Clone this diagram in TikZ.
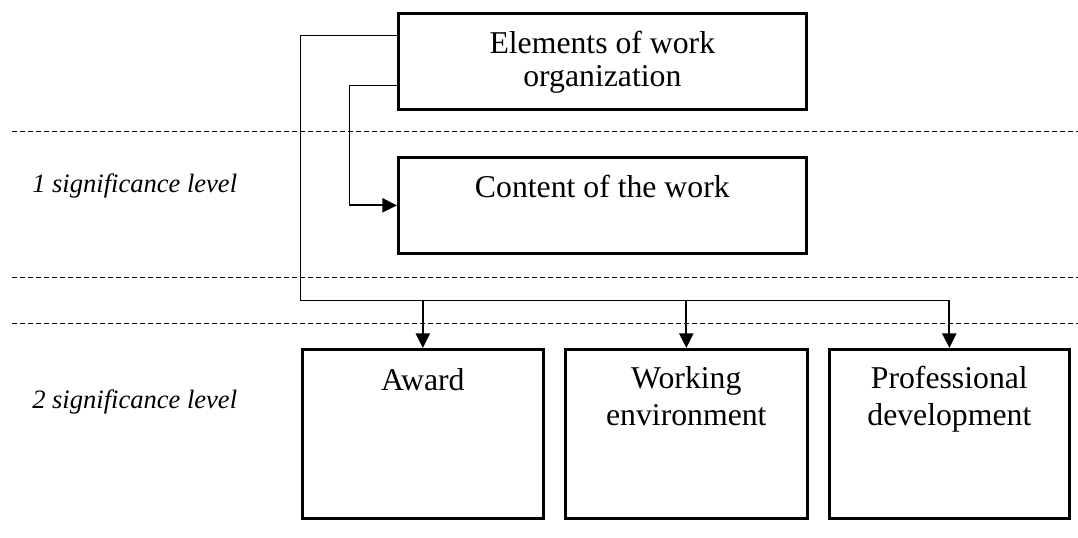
\documentclass[tikz,border=0pt]{standalone}
\usepackage{fontspec}
\setmainfont{Liberation Serif}
\usetikzlibrary{arrows.meta,calc}
\begin{document}
\begin{tikzpicture}[x=0.75pt,y=-0.75pt,
  box/.style={draw,line width=2pt,inner sep=0pt,anchor=north west},
  boxtext/.style={font=\fontsize{23.8}{24.75}\selectfont,align=center,inner sep=0pt,anchor=north},
  lowtext/.style={boxtext,font=\fontsize{23.8}{28}\selectfont},
  lvl/.style={font=\fontsize{19.9}{22}\selectfont\itshape,inner sep=0pt,anchor=base west},
  wire/.style={line width=0.75pt},
  arrowline/.style={line width=1.7pt,-{Triangle[length=11pt,width=10.5pt]}},
  levelline/.style={line width=0.75pt,dash pattern=on 3.75pt off 2.25pt}]
  \useasboundingbox (0,0) rectangle (1078,537);

  % level separators
  \draw[levelline] (12,131) -- (1078,131);
  \draw[levelline] (12,277) -- (1078,277);
  \draw[levelline] (12,323) -- (1078,323);

  % level captions
  \node[lvl] (lvl1) at (32,192) {1 significance level};
  \node[lvl] (lvl2) at (32,408) {2 significance level};

  % boxes
  \node[box,minimum width=306pt,minimum height=72pt] (top) at (397,12) {};
  \node[box,minimum width=306pt,minimum height=72pt] (content) at (397,156) {};
  \node[box,minimum width=180.75pt,minimum height=126.75pt] (award) at (301,348) {};
  \node[box,minimum width=181.5pt,minimum height=126.75pt] (work) at (564,348) {};
  \node[box,minimum width=180pt,minimum height=126.75pt] (prof) at (828,348) {};

  % box texts
  \node[boxtext] (toptxt) at ($(top.north)+(0,19)$) {Elements of work\\organization};
  \node[boxtext] (contenttxt) at ($(content.north)+(0,19)$) {Content of the work};
  \node[lowtext] (awardtxt) at ($(award.north)+(0,20)$) {Award};
  \node[lowtext] (worktxt) at ($(work.north)+(0,18)$) {Working\\environment};
  \node[lowtext] (proftxt) at ($(prof.north)+(0,18)$) {Professional\\development};

  % connectors
  \coordinate (bus) at (300,300);
  \coordinate (bend) at (349,0);
  \draw[wire] ([yshift=-17.25pt]top.north west) -| (bus) -- (prof.north |- bus);
  \draw[arrowline] (award.north |- bus) -- (award.north);
  \draw[arrowline] (work.north |- bus) -- (work.north);
  \draw[arrowline] (prof.north |- bus) -- (prof.north);
  \draw[wire] ([yshift=-54.75pt]top.north west) -| (bend |- content.west);
  \draw[arrowline] (bend |- content.west) -- (content.west);
\end{tikzpicture}
\end{document}
